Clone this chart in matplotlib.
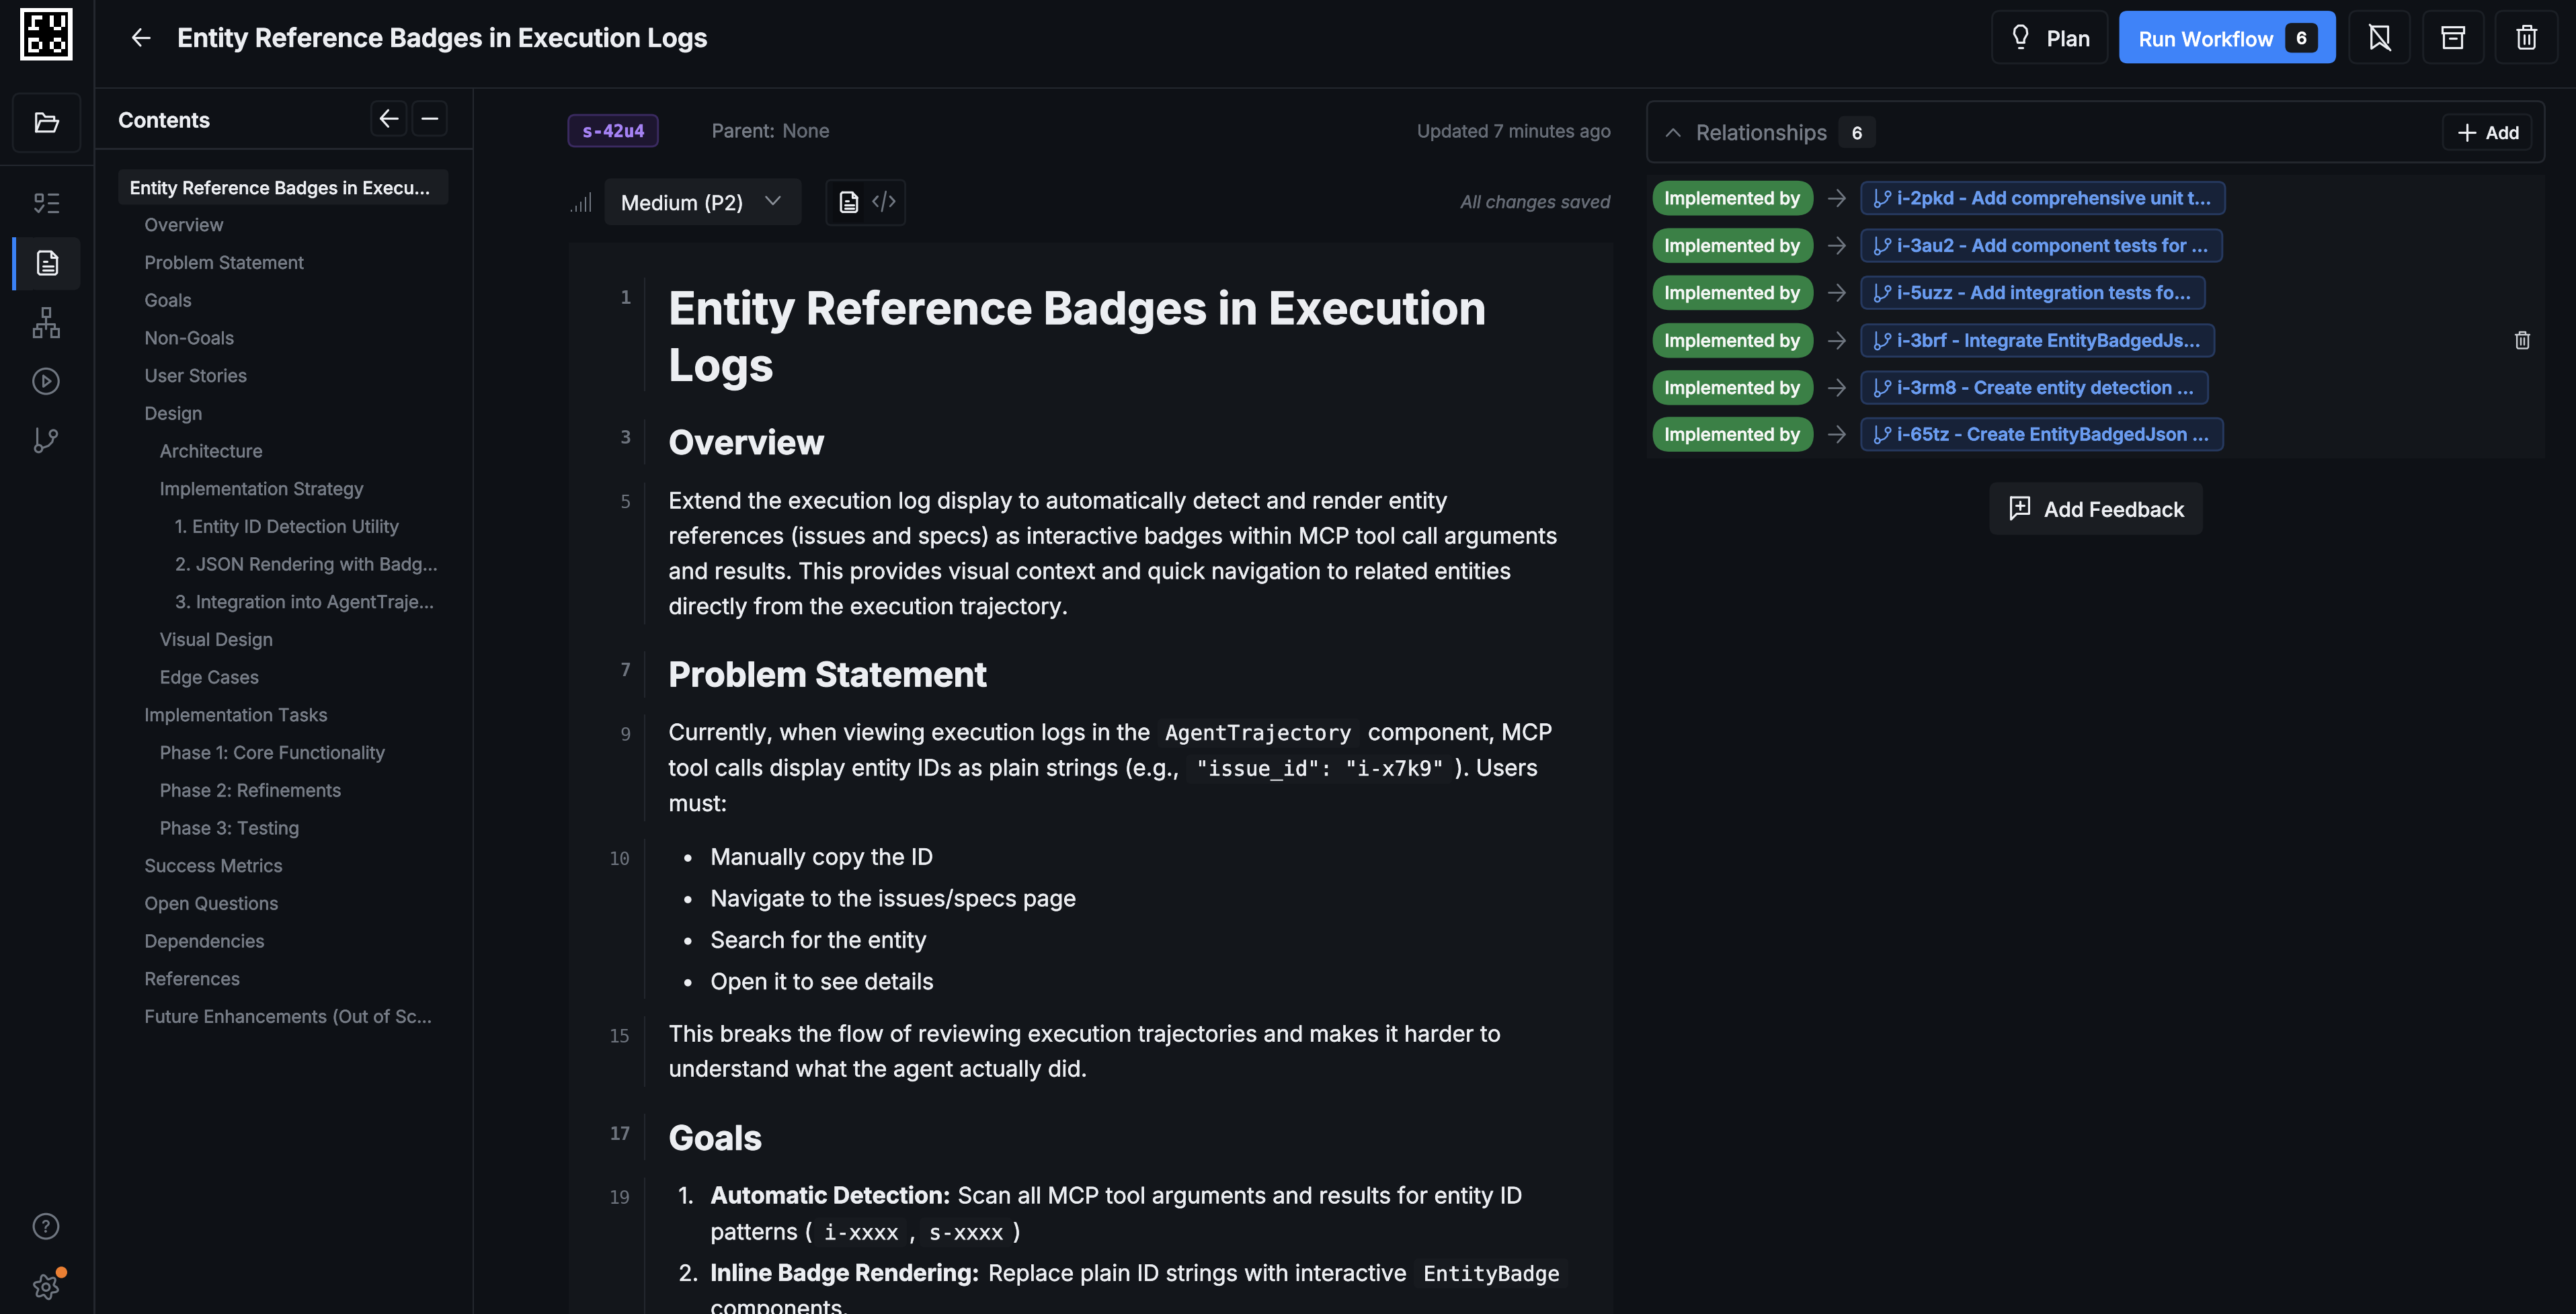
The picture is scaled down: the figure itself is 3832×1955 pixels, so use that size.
import numpy as np
import matplotlib
matplotlib.use("Agg")
import matplotlib.pyplot as plt
import matplotlib.patheffects as pe
from matplotlib.patches import FancyBboxPatch, Rectangle, Circle
from matplotlib.font_manager import FontProperties

# ---------- content ----------
page_title = "Entity Reference Badges in Execution Logs"
toc_active = "Entity Reference Badges in Execu..."
toc_titles = ["Overview", "Problem Statement", "Goals", "Non-Goals", "User Stories", "Design",
              "Architecture", "Implementation Strategy", "1. Entity ID Detection Utility",
              "2. JSON Rendering with Badg...", "3. Integration into AgentTraje...",
              "Visual Design", "Edge Cases", "Implementation Tasks",
              "Phase 1: Core Functionality", "Phase 2: Refinements", "Phase 3: Testing",
              "Success Metrics", "Open Questions", "Dependencies", "References",
              "Future Enhancements (Out of Sc..."]
toc_levels = [1, 1, 1, 1, 1, 1, 2, 2, 3, 3, 3, 2, 2, 1, 2, 2, 2, 1, 1, 1, 1, 1]
relation_label = "Implemented by"
relation_issues = ["i-2pkd - Add comprehensive unit t...", "i-3au2 - Add component tests for ...",
                   "i-5uzz - Add integration tests fo...", "i-3brf - Integrate EntityBadgedJs...",
                   "i-3rm8 - Create entity detection ...", "i-65tz - Create EntityBadgedJson ..."]
intro_lines = ["Extend the execution log display to automatically detect and render entity",
               "references (issues and specs) as interactive badges within MCP tool call arguments",
               "and results. This provides visual context and quick navigation to related entities",
               "directly from the execution trajectory."]
bullet_items = ["Manually copy the ID", "Navigate to the issues/specs page",
                "Search for the entity", "Open it to see details"]
breaks_lines = ["This breaks the flow of reviewing execution trajectories and makes it harder to",
                "understand what the agent actually did."]

# ---------- palette ----------
BG = "#0e1116"; PANEL = "#13161b"; LINE = "#23272e"; SOFT = "#1b1f25"; BTN = "#1a1d22"
TXT = "#eceef2"; GRAY = "#767c86"; ICON = "#6f7680"; CODE = "#171a1f"
BODY = 13.65

W, H = 3832, 1956
S = W / 1568
fig = plt.figure(figsize=(W / 100, H / 100), dpi=100, facecolor=BG)
ax = fig.add_axes([0, 0, 1, 1])
ax.set_xlim(0, 1568); ax.set_ylim(H / S, 0); ax.axis("off")
R = fig.canvas.get_renderer()
SANS = "Inter"; MONO = "DejaVu Sans Mono"


def T(x, y, s, fs=13, c=TXT, wt="normal", fam=SANS, ha="left", st="normal", w=None, z=5, stroke=0.45):
    t = ax.text(x, y, s, color=c, ha=ha, va="baseline", zorder=z,
                fontproperties=FontProperties(family=fam, weight=wt, style=st, size=fs * S * 0.72))
    if w is not None:
        e = t.get_window_extent(R).width / S
        t.set_fontsize(t.get_fontsize() * w / e)
    if stroke:
        t.set_path_effects([pe.withStroke(linewidth=stroke, foreground=c)])
    return t


def box(x0, y0, x1, y1, r=3, fc=BTN, ec="none", lw=1.2, z=2):
    p = FancyBboxPatch((x0 + r, y0 + r), x1 - x0 - 2 * r, y1 - y0 - 2 * r,
                       boxstyle=f"round,pad={r},rounding_size={r}", fc=fc, ec=ec,
                       lw=lw * S * 0.72, zorder=z, mutation_aspect=1)
    ax.add_patch(p)


def rect(x0, y0, x1, y1, fc, z=1):
    ax.add_patch(Rectangle((x0, y0), x1 - x0, y1 - y0, fc=fc, ec="none", zorder=z))


def pl(cx, cy, pts, c=ICON, lw=1.3, k=1.0, closed=False, z=6):
    a = np.array(pts, float) * k + [cx, cy]
    if closed:
        a = np.vstack([a, a[0]])
    ax.plot(a[:, 0], a[:, 1], color=c, lw=lw * S * 0.72, solid_capstyle="round",
            solid_joinstyle="round", zorder=z)


def ring(cx, cy, r, c=ICON, lw=1.3, fc="none", z=6):
    ax.add_patch(Circle((cx, cy), r, fc=fc, ec=c, lw=lw * S * 0.72, zorder=z))


def arrow_left(cx, cy, c=TXT, k=1.0):
    pl(cx, cy, [(5, 0), (-5, 0)], c, k=k)
    pl(cx, cy, [(-0.5, -5), (-5, 0), (-0.5, 5)], c, k=k)


def arrow_right(cx, cy, c=ICON):
    pl(cx, cy, [(-5, 0), (5, 0)], c, lw=1.1)
    pl(cx, cy, [(0.5, -5), (5, 0), (0.5, 5)], c, lw=1.1)


def branch(cx, cy, c=ICON, lw=1.3, k=1.0):
    pl(cx, cy, [(-5.5, -7), (-5.5, 3)], c, lw, k)
    ring(cx + 4.5 * k, cy - 3.5 * k, 2.2 * k, c, lw)
    ring(cx - 4.5 * k, cy + 5.5 * k, 2.2 * k, c, lw)
    pl(cx, cy, [(4.5, -1.2), (3.8, 1.5), (1.5, 3.8), (-2.4, 5.2)], c, lw, k)


def doc(cx, cy, c=TXT, k=1.0, lw=1.3):
    pl(cx, cy, [(-5, -7), (2, -7), (5.5, -3.5), (5.5, 6), (4.5, 7), (-5, 7), (-6, 6), (-6, -6)], c, lw, k, True)
    pl(cx, cy, [(2, -7), (2, -3.5), (5.5, -3.5)], c, lw, k)
    for yy, x0 in [(-1, -2.5), (1.8, -3), (4.5, -3)]:
        pl(cx, cy, [(x0, yy), (3 if yy > 0 else -0.5, yy)], c, lw, k)


def trash(cx, cy, c=TXT, k=1.0, lw=1.2):
    pl(cx, cy, [(-6, -4.5), (6, -4.5)], c, lw, k)
    pl(cx, cy, [(-2.5, -4.5), (-2.5, -7), (2.5, -7), (2.5, -4.5)], c, lw, k)
    pl(cx, cy, [(-4.8, -4.5), (-4.8, 6), (-4, 7), (4, 7), (4.8, 6), (4.8, -4.5)], c, lw, k)
    pl(cx, cy, [(-1.4, -1.5), (-1.4, 4)], c, lw, k)
    pl(cx, cy, [(1.4, -1.5), (1.4, 4)], c, lw, k)


# ---------- frame ----------
rect(57, 0, 58, H / S, LINE, 3)
rect(57, 53.6, 1568, 54.6, LINE, 3)
rect(0, 100.6, 57, 101.6, LINE, 3)
rect(287.5, 54, 288.5, H / S, LINE, 3)
rect(58, 90.5, 288, 91.5, LINE, 3)

# logo
rect(12.3, 5.4, 44, 37.2, "#ffffff", 3)
rect(14.9, 7.9, 41.4, 34.7, "#000000", 4)
logo_cells = [(81, 58, 130, 74), (81, 58, 97, 107), (65, 107, 113, 124),
              (163, 58, 180, 107), (213, 58, 230, 107), (180, 107, 213, 124),
              (65, 157, 81, 223), (81, 157, 113, 174), (113, 174, 130, 207), (81, 207, 113, 223),
              (180, 157, 213, 174), (163, 174, 180, 207), (213, 174, 230, 207), (180, 207, 213, 223)]
for a, b, c_, d in logo_cells:
    rect((20 + a / 3) / S, (5 + b / 3) / S, (20 + c_ / 3) / S, (5 + d / 3) / S, "#ffffff", 5)

# rail
box(7.8, 57.3, 49, 93, r=4.5, fc=BG, ec=SOFT)
pl(28.5, 75, [(-6.5, 5.5), (-6.5, -5.5), (-2.5, -5.5), (-1, -3.5), (4.5, -3.5), (4.5, -1)], TXT)
pl(28.5, 75, [(-6.5, 5.5), (-4, -1), (7, -1), (4.5, 5.5)], TXT, closed=True)

box(18, 144.8, 49, 177, r=4.5, fc=BTN)
rect(7.5, 144.8, 20, 177, BTN, 2)
rect(7.5, 144.8, 9.9, 177, "#3b82f6", 3)
doc(29.2, 160.5, TXT, k=1.0)

ax.add_patch(FancyBboxPatch((22.3, 119.3), 3.2, 3.2, boxstyle="round,pad=0.5,rounding_size=0.6",
                            fc="none", ec=ICON, lw=1.3 * S * 0.72, zorder=6))
pl(28, 124, [(-6.5, 3.5), (-4.5, 5.5), (-1.5, 1.5)])
for yy in (-5.5, 0, 5.5):
    pl(28, 124, [(1.5, yy), (7, yy)])

for (bx, by) in [(28, 190.5), (22.7, 203), (33.3, 203)]:
    ax.add_patch(Rectangle((bx - 2.3, by - 2.5), 4.6, 5, fc="none", ec=ICON, lw=1.3 * S * 0.72, zorder=6))
pl(28, 197, [(0, -3.5), (0, 3.5)])
pl(28, 197, [(-5.3, 3.5), (-5.3, 0.5), (5.3, 0.5), (5.3, 3.5)])

ring(28, 232.5, 7.7)
pl(28, 232.5, [(-1.6, -3.3), (2.8, 0), (-1.6, 3.3)], closed=True)
branch(28, 268, ICON)

ring(28, 747, 7.5)
T(28, 750.6, "?", fs=10, c=ICON, ha="center")
th = np.linspace(0, 2 * np.pi, 240)
gr = 6.2 + 1.3 * np.cos(6 * th - np.pi / 2)
ax.plot(28 + gr * np.cos(th), 784 + gr * np.sin(th), color=ICON, lw=1.3 * S * 0.72, zorder=6)
ring(28, 784, 2.2)
ax.add_patch(Circle((37.4, 775), 3.5, fc="#ea7f33", ec="none", zorder=7))

# ---------- header ----------
arrow_left(86, 23.2, TXT)
T(108, 28.9, page_title, fs=14.7, wt="semibold", w=322, stroke=0.7)

box(1212.6, 7, 1283, 39, r=5, fc=BG, ec=SOFT)
pl(1230, 23, [(-2, 3), (2, 3)], TXT)
pl(1230, 23, [(-1.3, 6.5), (1.3, 6.5)], TXT)
pl(1230, 23, [(-2, 3), (-2.2, 1.2), (-4, -2), (-3.6, -5), (-1.5, -7), (1.5, -7), (3.6, -5), (4, -2), (2.2, 1.2), (2, 3)], TXT)
T(1246, 28.5, "Plan", fs=12.2, w=26.5, wt="medium")

box(1290, 7, 1422, 39, r=5, fc="#3f83f8")
T(1302, 28.6, "Run Workflow", fs=12.2, w=82, wt="medium", c="#ffffff")
box(1391, 14.4, 1411, 32.5, r=4, fc="#16191e", z=3)
T(1401, 27.2, "6", fs=10.2, ha="center", wt="semibold", c="#ffffff")

for x0, x1 in [(1430, 1467), (1475, 1512), (1519, 1557)]:
    box(x0, 7, x1, 39, r=5, fc=BG, ec=SOFT)
pl(1448.5, 23, [(-5, -6.5), (5, -6.5), (5, 3)], TXT)
pl(1448.5, 23, [(-5, -6.5), (-5, 7), (0, 3.5), (5, 7)], TXT)
pl(1448.5, 23, [(-6, -7.5), (6.5, 8)], TXT)
ax.add_patch(Rectangle((1486.5, 16.7), 13, 3.6, fc="none", ec=TXT, lw=1.3 * S * 0.72, zorder=6))
pl(1493, 23, [(-5.5, -2.7), (-5.5, 6.5), (5.5, 6.5), (5.5, -2.7)], TXT)
pl(1493, 23, [(-2, 0.8), (2, 0.8)], TXT)
trash(1538, 23, TXT)

# ---------- contents panel ----------
T(72, 78, "Contents", fs=12, wt="semibold", w=56)
box(226, 62, 247.5, 83, r=4, fc=BG, ec=SOFT)
box(251, 62, 272, 83, r=4, fc=BG, ec=SOFT)
arrow_left(236.8, 72.5, TXT)
pl(261.5, 72.5, [(-4.5, 0), (4.5, 0)], TXT)

box(72, 103.5, 273, 125, r=3, fc=BTN)
T(79, 118.6, toc_active, fs=10.6, wt="medium", w=183)
level_x = {1: 88, 2: 97.3, 3: 106.6}
for i, (title, lvl) in enumerate(zip(toc_titles, toc_levels)):
    T(level_x[lvl], 141.1 + 22.95 * i, title, fs=10.75, c=GRAY)

# ---------- meta row ----------
box(346, 70.4, 400.5, 89.6, r=4, fc="#1d1630", ec="#3a2a60")
T(354.5, 83.8, "s-42u4", fs=10.5, fam=MONO, wt="bold", c="#a582f4")
T(433.3, 84, "Parent:", fs=11.4, c=GRAY)
T(476.3, 84, "None", fs=11.4, c="#666c76")
T(980.5, 84, "Updated 7 minutes ago", fs=10.6, c="#666c76", ha="right", w=118)

for i, h in enumerate([1.3, 3.5, 6, 8.8, 12]):
    rect(347.2 + i * 2.9, 129.3 - h, 348.2 + i * 2.9, 129.3, ICON, 3)
box(368, 109, 488, 137.5, r=4, fc=BTN)
T(378, 128.3, "Medium (P2)", fs=12.2, wt="normal", w=74.5)
pl(470.5, 122.5, [(-4.2, -2.3), (0, 2.3), (4.2, -2.3)], "#8a9099", lw=1.1)

box(503, 110, 551, 137.5, r=3, fc=BG, ec=SOFT)
rect(507, 111.5, 526, 136, "#0b0d11", 2)
doc(517, 123.5, TXT, k=0.85)
pl(538, 123, [(-6.5, 0), (-3.8, -3), (-6.5, 0), (-3.8, 3)], ICON, k=1, lw=1.1)
pl(538, 123, [(6.5, 0), (3.8, -3), (6.5, 0), (3.8, 3)], ICON, k=1, lw=1.1)
pl(538, 123, [(1.2, -6), (-1.2, 6)], ICON, lw=1.1)
T(980.5, 127, "All changes saved", fs=10.6, c="#666c76", ha="right", st="italic", w=91)

# ---------- editor ----------
rect(346, 148.3, 982, H / S, PANEL, 1)
blocks = [(169.5, 238.6), (255.8, 283), (294, 380.6), (397, 425), (435.4, 500.3),
          (511, 608.3), (619, 662), (678.6, 706.5), (717.4, 801)]
for y0, y1 in blocks:
    rect(391.9, y0, 392.7, y1, LINE, 2)
line_numbers = ["1", "3", "5", "7", "9", "10", "15", "17", "19"]
number_y = [185, 270, 309.4, 411.5, 450.8, 526.5, 634.5, 693.9, 733]
for n, y in zip(line_numbers, number_y):
    T(384, y, n, fs=11, fam=MONO, c="#6d737d", ha="right", wt="bold" if n in ("1", "3", "7", "17") else "normal", stroke=0)

T(407, 197.7, "Entity Reference Badges in Execution", fs=24.5, wt="bold", w=498, stroke=0.8)
T(407, 232.2, "Logs", fs=24.5, wt="bold", w=64, stroke=0.8)
T(407, 276.9, "Overview", fs=19.6, wt="bold", w=95, stroke=0.8)
for i, s in enumerate(intro_lines):
    T(407, 309.9 + 21.45 * i, s, fs=BODY)
T(407, 418.3, "Problem Statement", fs=19.6, wt="bold", w=194, stroke=0.8)

box(704.6, 437.8, 827.8, 455.8, r=3, fc=CODE)
T(407, 450.9, "Currently, when viewing execution logs in the", fs=BODY, w=293.7)
T(709.4, 450.9, "AgentTrajectory", fs=12.55, fam=MONO)
T(832.7, 450.9, "component, MCP", fs=BODY, w=112.5)
box(722, 459.7, 884, 477.6, r=3, fc=CODE)
T(407, 472.6, "tool calls display entity IDs as plain strings (e.g.,", fs=BODY, w=311)
T(728, 472.6, '"issue_id": "i-x7k9"', fs=12.55, fam=MONO)
T(885.6, 472.6, "). Users", fs=BODY, w=50.5)
T(407, 494.2, "must:", fs=BODY)

for i, s in enumerate(bullet_items):
    yb = 526.8 + 25.3 * i
    ax.add_patch(Circle((418.7, yb - 4), 2.2, fc=TXT, ec="none", zorder=5))
    T(432.5, yb, s, fs=BODY)
for i, s in enumerate(breaks_lines):
    T(407, 634.5 + 21.3 * i, s, fs=BODY)
T(407, 700.4, "Goals", fs=19.6, wt="bold", w=57, stroke=0.8)

T(413, 733, "1.", fs=BODY)
T(432.5, 733, "Automatic Detection:", fs=BODY, wt="bold", w=146.5)
T(583, 733, "Scan all MCP tool arguments and results for entity ID", fs=BODY, w=344)
T(432.5, 755, "patterns (", fs=BODY, w=62)
box(495.5, 741.6, 552, 759.8, r=3, fc=CODE)
T(501.7, 755, "i-xxxx", fs=12.55, fam=MONO)
T(553.5, 755, ",", fs=BODY)
box(559.8, 741.6, 616.2, 759.8, r=3, fc=CODE)
T(565.5, 755, "s-xxxx", fs=12.55, fam=MONO)
T(616.6, 755, ")", fs=BODY)
T(413, 780.2, "2.", fs=BODY)
T(432.5, 780.2, "Inline Badge Rendering:", fs=BODY, wt="bold", w=164.5)
T(601.6, 780.2, "Replace plain ID strings with interactive", fs=BODY, w=255)
box(860.6, 766.5, 954.7, 784.8, r=3, fc=CODE)
T(866.4, 780.2, "EntityBadge", fs=12.55, fam=MONO)
T(432.5, 801.8, "components.", fs=BODY)

# ---------- relationships ----------
box(1002.6, 62, 1549, 99.3, r=4.5, fc=BG, ec=LINE)
pl(1018.5, 81, [(-4, 2.2), (0, -2), (4, 2.2)], ICON, lw=1.1)
T(1032.5, 85.6, "Relationships", fs=12, c=GRAY, w=80)
box(1119, 71, 1142, 90.5, r=4, fc=BTN)
T(1130.5, 85.1, "6", fs=10.2, ha="center", wt="medium")
box(1487, 70, 1541, 91.6, r=4, fc=BG, ec=SOFT)
pl(1501.7, 81, [(-4.8, 0), (4.8, 0)], TXT)
pl(1501.7, 81, [(0, -4.8), (0, 4.8)], TXT)
T(1513.2, 85, "Add", fs=10.6, wt="medium", w=20.5)

rect(1002.6, 106.8, 1549, 279.3, PANEL, 1)
row_y = [121, 149.9, 178.6, 207.7, 236.4, 264.8]
for y, issue in zip(row_y, relation_issues):
    box(1006, y - 10.6, 1104, y + 10.6, r=10.4, fc="#3b8046")
    T(1013.3, y + 3.8, relation_label, fs=10.6, c="#f4f7f4", wt="medium", w=82.7, stroke=0.6)
    arrow_right(1118, y)
    t = T(1155, y + 3.8, issue, fs=10.9, c="#6a9cf0", wt="semibold")
    right = 1155 + t.get_window_extent(R).width / S + 8.6
    box(1133, y - 9.8, right, y + 9.8, r=4, fc="#172238", ec="#26395f")
    branch(1146, y, "#6a9cf0", lw=1.0, k=0.72)
trash(1535.5, 207.5, "#c9ccd1", k=0.72, lw=1.0)

box(1211, 294, 1341, 326, r=5, fc=BTN)
pl(1229.6, 309.7, [(-5.5, -6.5), (5.5, -6.5), (5.5, 3.5), (-2, 3.5), (-5.5, 7)], TXT, closed=True)
pl(1229.6, 309.7, [(-2.5, -1.5), (2.5, -1.5)], TXT)
pl(1229.6, 309.7, [(0, -4), (0, 1)], TXT)
T(1244.3, 315, "Add Feedback", fs=13, w=85.5, wt="medium")

fig.savefig("out.png", dpi=100, facecolor=BG)
